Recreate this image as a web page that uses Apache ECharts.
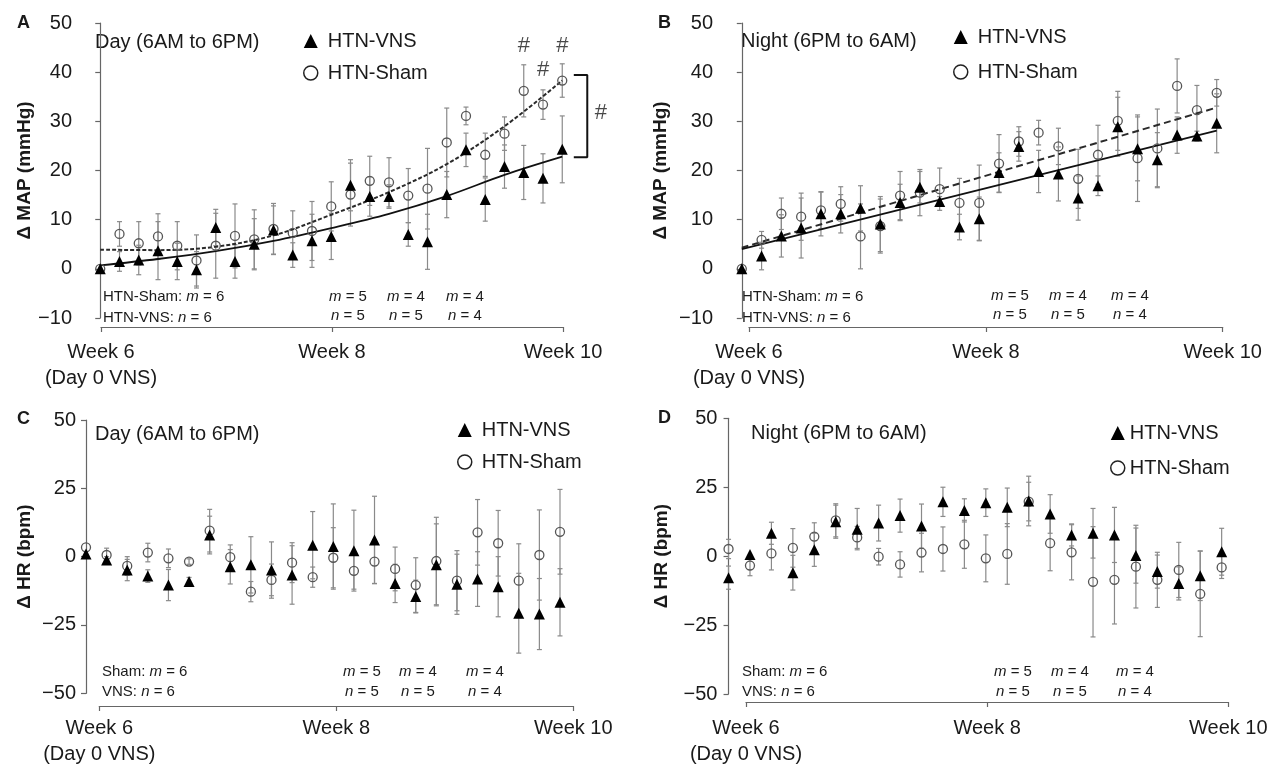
<!DOCTYPE html>
<html>
<head>
<meta charset="utf-8">
<script src="https://cdn.jsdelivr.net/npm/echarts@6/dist/echarts.min.js"></script>
<style>
  html, body { margin: 0; background: #fff; }
  #chart { width: 1272px; height: 767px; }
</style>
</head>
<body>
<div id="chart"></div>
<script>
// ---- data, x = sample index along the 4-week recording ----
// A: MAP, day
const aVns     = [0, 1.5, 1.8, 3.7, 1.5, -0.2, 8.4, 1.5, 5.0, 7.9, 2.8, 5.7, 6.6, 17.0, 14.7, 14.7, 7.0, 5.5, 15.1, 24.2, 14.1, 20.8, 19.6, 18.4, 24.3];
const aVnsErr  = [0, 2.0, 3.0, 5.9, 3.7, 3.7, 3.7, 3.4, 5.2, 4.9, 2.5, 5.4, 4.7, 5.2, 4.0, 2.4, 2.4, 5.6, 4.7, 3.4, 4.4, 4.4, 5.5, 5.0, 6.8];
const aSham    = [0, 7.1, 5.2, 6.6, 4.7, 1.7, 4.7, 6.7, 6.0, 8.1, 7.3, 7.7, 12.7, 15.1, 17.9, 17.6, 14.9, 16.3, 25.7, 31.1, 23.2, 27.5, 36.2, 33.4, 38.3];
const aShamErr = [0, 2.5, 4.4, 4.6, 4.9, 5.2, 6.6, 6.5, 6.0, 5.2, 4.5, 6.0, 5.0, 6.4, 5.0, 5.0, 5.5, 8.2, 7.0, 1.8, 4.4, 3.4, 5.3, 3.0, 3.4];
const aVnsFit  = [[0, 0.7], [3, 2.0], [6, 3.6], [9, 5.7], [12, 8.3], [15, 11.2], [18, 14.8], [21, 19.1], [24, 22.8]];
const aShamFit = [[0, 3.9], [3, 3.8], [6, 4.5], [9, 6.8], [12, 11.0], [15, 15.6], [18, 21.3], [21, 29.0], [24, 38.3]];
const aHashes  = [[22, 45.4], [23, 40.5], [24, 45.4], [26, 31.8]];
const aBracket = [[24.6, 39.4], [25.3, 39.4], [25.3, 22.7], [24.6, 22.7]];

// B: MAP, night
const bVns     = [0, 2.6, 6.7, 8.3, 11.2, 11.2, 12.3, 9.1, 13.5, 16.6, 13.7, 8.5, 10.2, 19.6, 24.9, 19.8, 19.3, 14.4, 16.9, 28.9, 24.4, 22.2, 27.2, 27.0, 29.6];
const bVnsErr  = [0, 2.8, 4.3, 6.1, 4.5, 3.9, 4.6, 5.6, 3.7, 3.2, 1.0, 2.6, 4.4, 4.0, 3.0, 4.3, 5.5, 4.5, 2.0, 6.0, 6.5, 5.5, 3.7, 1.0, 6.0];
const bSham    = [0, 5.9, 11.2, 10.6, 11.9, 13.2, 6.6, 8.7, 14.9, 15.5, 16.2, 13.4, 13.4, 21.4, 25.9, 27.7, 24.9, 18.3, 23.2, 30.1, 22.5, 24.5, 37.2, 32.3, 35.8];
const bShamErr = [0, 1.7, 3.2, 4.8, 3.7, 3.5, 6.6, 5.5, 4.9, 4.7, 4.3, 5.0, 7.7, 5.9, 3.0, 2.5, 3.7, 6.0, 6.0, 6.0, 8.8, 8.0, 5.5, 5.0, 2.7];
const bVnsFit  = [[0, 4.0], [24, 28.1]];
const bShamFit = [[0, 4.3], [24, 32.8]];

// C: HR, day
const cVns     = [1.0, -1.2, -4.9, -7.1, -10.4, -9.1, 7.9, -3.7, -3.0, -4.9, -6.7, 4.2, 3.7, 2.2, 6.1, -9.8, -14.6, -3.0, -10.1, -8.2, -11.0, -20.7, -21.0, -16.7];
const cVnsErr  = [0, 1.2, 3.9, 2.3, 5.7, 1.5, 6.9, 6.3, 10.3, 10.3, 10.7, 12.3, 15.6, 14.8, 16.0, 7.0, 6.0, 15.0, 11.0, 10.0, 11.0, 14.6, 13.0, 12.3];
const cSham    = [3.4, 0.6, -3.4, 1.5, -0.6, -1.8, 9.5, -0.2, -12.8, -8.5, -2.2, -7.5, -0.4, -5.2, -1.8, -4.5, -10.4, -1.6, -8.8, 8.9, 4.9, -8.8, 0.6, 9.1];
const cShamErr = [0, 2.5, 3.4, 3.4, 3.4, 1.0, 7.8, 4.5, 3.7, 5.8, 7.3, 3.7, 11.0, 6.7, 8.0, 8.0, 10.0, 16.0, 11.0, 12.0, 12.0, 13.5, 16.5, 15.5];

// D: HR, night
const dVns     = [-7.8, 0.6, 8.3, -6.0, 2.3, 12.5, 9.8, 12.0, 14.7, 10.9, 19.7, 16.6, 19.4, 17.7, 20.0, 15.3, 7.7, 8.3, 7.7, 0.2, -5.6, -9.9, -7.1, 1.6];
const dVnsErr  = [4.2, 0, 4.0, 6.3, 6.0, 6.0, 7.5, 6.5, 6.0, 8.0, 5.3, 4.2, 5.0, 7.0, 9.0, 7.0, 4.0, 9.0, 10.0, 10.0, 6.0, 6.0, 9.0, 8.5];
const dSham    = [2.6, -3.4, 1.0, 3.0, 7.1, 13.0, 6.8, -0.2, -3.0, 1.3, 2.6, 4.3, -0.8, 0.8, 19.8, 4.7, 1.4, -9.3, -8.6, -3.8, -8.6, -5.0, -13.7, -4.1];
const dShamErr = [3.5, 3.7, 6.0, 7.0, 5.0, 6.0, 4.0, 3.0, 4.6, 7.0, 8.0, 8.7, 8.5, 11.0, 7.0, 10.0, 10.0, 20.0, 16.0, 15.0, 10.0, 10.0, 15.5, 4.0];

// labels
const weekLabels = ['Week 6\n(Day 0 VNS)', 'Week 8', 'Week 10'];
const mapGroups = ['HTN-Sham', 'HTN-VNS'];
const hrGroups = ['Sham', 'VNS'];
const countsM = ['5', '4', '4'];
const countsN = ['5', '5', '4'];

const FONT = "'Liberation Sans', Arial, Helvetica, sans-serif";
const INK = '#1a1a1a';
const AXIS = '#666';
const BAR = '#8a8a8a';

const panels = [
  { letter: 'A', sub: 'Day (6AM to 6PM)', yName: 'Δ MAP (mmHg)', y: [-10, 50, 10], x: [-1, 26],
    grid: { left: 81, top: 23, width: 519.75, height: 295 }, xGrid: { left: 101, top: 310, width: 462, height: 17 },
    nameGap: 47, labelMargin: 12, yLabelMargin: 9, vns: aVns, vnsErr: aVnsErr, sham: aSham, shamErr: aShamErr,
    vnsFit: aVnsFit, shamFit: aShamFit, dash: [4, 2],
    legend: { left: 298, top: 26, gap: 12, pad: 5 }, letterAt: [17, 23], subAt: [95, 42],
    groups: mapGroups, groupAt: [103, 297, 318], countX: [348, 406, 465], countY: [297, 316] },
  { letter: 'B', sub: 'Night (6PM to 6AM)', yName: 'Δ MAP (mmHg)', y: [-10, 50, 10], x: [-1, 25],
    grid: { left: 722, top: 23, width: 514.5, height: 295 }, xGrid: { left: 749, top: 310, width: 473.7, height: 17 },
    nameGap: 52, labelMargin: 12, yLabelMargin: 9, vns: bVns, vnsErr: bVnsErr, sham: bSham, shamErr: bShamErr,
    vnsFit: bVnsFit, shamFit: bShamFit, dash: [7, 4],
    legend: { left: 948, top: 22, gap: 15, pad: 5 }, letterAt: [658, 23], subAt: [741, 41],
    groups: mapGroups, groupAt: [742, 297, 318], countX: [1010, 1068, 1130], countY: [296, 315] },
  { letter: 'C', sub: 'Day (6AM to 6PM)', yName: 'Δ HR (bpm)', y: [-50, 50, 25], x: [0, 24],
    grid: { left: 86, top: 420, width: 494.6, height: 273.3 }, xGrid: { left: 99.3, top: 693, width: 474, height: 17 },
    nameGap: 52, labelMargin: 9, yLabelMargin: 10, vns: cVns, vnsErr: cVnsErr, sham: cSham, shamErr: cShamErr,
    legend: { left: 452, top: 415, gap: 12, pad: 5 }, letterAt: [17, 419], subAt: [95, 434],
    groups: hrGroups, groupAt: [102, 672, 692], countX: [362, 418, 485], countY: [672, 692] },
  { letter: 'D', sub: 'Night (6PM to 6AM)', yName: 'Δ HR (bpm)', y: [-50, 50, 25], x: [-0.1, 24],
    grid: { left: 726.4, top: 418.3, width: 516.7, height: 275.7 }, xGrid: { left: 746, top: 689, width: 482.3, height: 17 },
    nameGap: 55, labelMargin: 13, yLabelMargin: 9, vns: dVns, vnsErr: dVnsErr, sham: dSham, shamErr: dShamErr,
    legend: { left: 1105, top: 418, gap: 15, pad: 0 }, letterAt: [658, 418], subAt: [751, 433],
    groups: hrGroups, groupAt: [742, 672, 692], countX: [1013, 1070, 1135], countY: [672, 692] }
];

function renderErr(params, api) {
  const x = api.value(0);
  const lo = api.coord([x, api.value(1)]);
  const hi = api.coord([x, api.value(2)]);
  const w = 2.5;
  const st = { stroke: BAR, lineWidth: 1.2 };
  return {
    type: 'group',
    children: [
      { type: 'line', shape: { x1: lo[0], y1: lo[1], x2: hi[0], y2: hi[1] }, style: st },
      { type: 'line', shape: { x1: lo[0] - w, y1: lo[1], x2: lo[0] + w, y2: lo[1] }, style: st },
      { type: 'line', shape: { x1: hi[0] - w, y1: hi[1], x2: hi[0] + w, y2: hi[1] }, style: st }
    ]
  };
}

const errData = (vals, errs) =>
  vals.map((v, i) => [i, v - errs[i], v + errs[i]]).filter(d => d[2] > d[1]);

const rich = {
  a: { font: `15px ${FONT}`, fill: INK },
  i: { font: `italic 15px ${FONT}`, fill: INK }
};
const textEl = (x, y, text, size, extra) => ({
  type: 'text', x, y,
  style: Object.assign({
    text, fill: INK, font: `${size}px ${FONT}`,
    verticalAlign: 'middle', textVerticalAlign: 'middle'
  }, extra || {})
});
const richEl = (x, y, text, align) => ({
  type: 'text', x, y,
  style: { text, rich, fill: INK, font: `15px ${FONT}`,
    align, textAlign: align, verticalAlign: 'middle', textVerticalAlign: 'middle' }
});

const grid = [], xAxis = [], yAxis = [], series = [], legend = [], graphic = [];

panels.forEach((p, k) => {
  const dg = 2 * k, ag = 2 * k + 1;
  grid.push(p.grid, p.xGrid);

  xAxis.push({ gridIndex: dg, type: 'value', min: p.x[0], max: p.x[1], show: false });
  xAxis.push({
    gridIndex: ag, type: 'value', min: 0, max: 24, interval: 12,
    axisLine: { show: true, lineStyle: { color: AXIS, width: 1.2 } },
    axisTick: { show: true, length: 5, lineStyle: { color: AXIS, width: 1.2 } },
    splitLine: { show: false },
    axisLabel: {
      formatter: v => weekLabels[Math.round(v / 12)],
      color: INK, fontSize: 20, fontFamily: FONT, lineHeight: 26, margin: p.labelMargin,
      showMinLabel: true, showMaxLabel: true
    }
  });

  yAxis.push({
    gridIndex: dg, type: 'value', min: p.y[0], max: p.y[1], interval: p.y[2],
    name: p.yName, nameLocation: 'middle', nameGap: p.nameGap, nameRotate: 90,
    nameTextStyle: { color: INK, fontSize: 19, fontWeight: 'bold', fontFamily: FONT },
    axisLine: { show: true, lineStyle: { color: AXIS, width: 1.2 } },
    axisTick: { show: true, length: 5, lineStyle: { color: AXIS, width: 1.2 } },
    splitLine: { show: false },
    axisLabel: {
      formatter: v => (v < 0 ? '\u2212' + Math.abs(v) : String(v)),
      color: INK, fontSize: 20, fontFamily: FONT, margin: p.yLabelMargin
    }
  });
  yAxis.push({ gridIndex: ag, type: 'value', min: 0, max: 1, show: false });

  const on = { xAxisIndex: dg, yAxisIndex: dg };
  series.push(Object.assign({ type: 'custom', name: 'sham-err', renderItem: renderErr,
    encode: { x: 0, y: [1, 2] }, data: errData(p.sham, p.shamErr), z: 1, silent: true }, on));
  series.push(Object.assign({ type: 'custom', name: 'vns-err', renderItem: renderErr,
    encode: { x: 0, y: [1, 2] }, data: errData(p.vns, p.vnsErr), z: 1, silent: true }, on));

  if (p.shamFit) {
    series.push(Object.assign({ type: 'line', name: 'sham-fit', data: p.shamFit, smooth: 0.35,
      symbol: 'none', lineStyle: { color: '#2a2a2a', width: 2, type: p.dash }, z: 2, silent: true }, on));
    series.push(Object.assign({ type: 'line', name: 'vns-fit', data: p.vnsFit, smooth: 0.35,
      symbol: 'none', lineStyle: { color: '#111', width: 1.8 }, z: 2, silent: true }, on));
  }

  series.push(Object.assign({ type: 'scatter', name: 'HTN-Sham', data: p.sham.map((v, i) => [i, v]),
    symbol: 'circle', symbolSize: 9,
    itemStyle: { color: 'rgba(0,0,0,0)', borderColor: '#555', borderWidth: 1.3, opacity: 1 }, z: 3 }, on));
  series.push(Object.assign({ type: 'scatter', name: 'HTN-VNS', data: p.vns.map((v, i) => [i, v]),
    symbol: 'triangle', symbolSize: 11, itemStyle: { color: '#000', opacity: 1 }, z: 4 }, on));

  if (p.letter === 'A') {
    series.push(Object.assign({ type: 'line', name: 'bracket', data: aBracket, symbol: 'none',
      lineStyle: { color: '#111', width: 2 }, z: 2, silent: true }, on));
    series.push(Object.assign({ type: 'scatter', name: 'hash', data: aHashes, symbolSize: 1,
      itemStyle: { color: 'rgba(0,0,0,0)' }, silent: true,
      label: { show: true, position: 'inside', formatter: '#', color: INK, fontSize: 22, fontFamily: FONT } }, on));
  }

  legend.push({
    left: p.legend.left, top: p.legend.top, orient: 'vertical', itemGap: p.legend.gap,
    itemWidth: 14, itemHeight: 14, selectedMode: false,
    textStyle: { color: INK, fontSize: 20, fontFamily: FONT, padding: [0, 0, 0, p.legend.pad] },
    data: [
      { name: 'HTN-VNS', icon: 'triangle', itemStyle: { color: '#000', borderWidth: 0, opacity: 1 } },
      { name: 'HTN-Sham', icon: 'circle', itemStyle: { color: 'rgba(0,0,0,0)', borderColor: '#222', borderWidth: 1.5, opacity: 1 } }
    ]
  });

  graphic.push(textEl(p.letterAt[0], p.letterAt[1], p.letter, 18, { font: `bold 18px ${FONT}` }));
  graphic.push(textEl(p.subAt[0], p.subAt[1], p.sub, 20));
  graphic.push(richEl(p.groupAt[0], p.groupAt[1], `{a|${p.groups[0]}: }{i|m}{a| = 6}`, 'left'));
  graphic.push(richEl(p.groupAt[0], p.groupAt[2], `{a|${p.groups[1]}: }{i|n}{a| = 6}`, 'left'));
  p.countX.forEach((cx, j) => {
    graphic.push(richEl(cx, p.countY[0], `{i|m}{a| = ${countsM[j]}}`, 'center'));
    graphic.push(richEl(cx, p.countY[1], `{i|n}{a| = ${countsN[j]}}`, 'center'));
  });
});

const chart = echarts.init(document.getElementById('chart'), null, { renderer: 'canvas' });
chart.setOption({
  backgroundColor: '#fff',
  animation: false,
  textStyle: { fontFamily: FONT },
  grid, xAxis, yAxis, series, legend, graphic
});
</script>
</body>
</html>
